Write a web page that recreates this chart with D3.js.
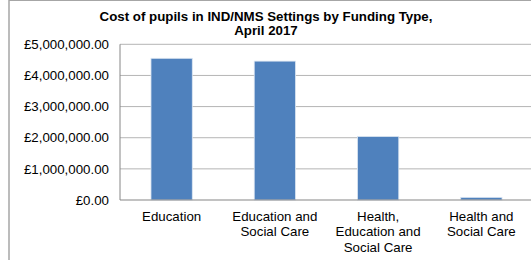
<!DOCTYPE html>
<html>
<head>
<meta charset="utf-8">
<script src="https://cdn.jsdelivr.net/npm/d3@7"></script>
<style>
  body { margin: 0; background: #fff; }
  svg { display: block; font-family: Arial, "Liberation Sans", sans-serif; }
</style>
</head>
<body>
<div id="chart"></div>
<script>
/**
 * Data
 */
const categories = [
  ["Education"],
  ["Education and", "Social Care"],
  ["Health,", "Education and", "Social Care"],
  ["Health and", "Social Care"],
];
const costs = [4550000, 4460000, 2040000, 85000];
const yTicks = [0, 1000000, 2000000, 3000000, 4000000, 5000000];
const titleLines = ["Cost of pupils in IND/NMS Settings by Funding Type,", "April 2017"];

/**
 * Globals
 */
const W = 531, H = 260;
const plot = { l: 120, r: 533, t: 44.3, b: 200 };

const svg = d3.select("#chart").append("svg").attr("width", W).attr("height", H);

// chart border (left + top visible)
svg.append("line").attr("x1", 9).attr("x2", 9).attr("y1", 0).attr("y2", H)
  .attr("stroke", "#a6a6a6").attr("stroke-width", 1.5);
svg.append("line").attr("x1", 9).attr("x2", W).attr("y1", 0.5).attr("y2", 0.5)
  .attr("stroke", "#a6a6a6").attr("stroke-width", 1);

const x = d3.scaleBand()
  .domain(d3.range(categories.length))
  .range([plot.l, plot.r])
  .paddingInner(0.6)
  .paddingOuter(0.3);

const y = d3.scaleLinear().domain([0, 5000000]).range([plot.b, plot.t]);

const fmt = v => "£" + d3.format(",.2f")(v);

// gridlines
svg.append("g").selectAll("line").data(yTicks.filter(d => d > 0)).join("line")
  .attr("x1", plot.l).attr("x2", plot.r)
  .attr("y1", d => y(d)).attr("y2", d => y(d))
  .attr("stroke", "#b5b5b5").attr("stroke-width", 1);

// y axis labels
svg.append("g").selectAll("text").data(yTicks).join("text")
  .attr("x", 109).attr("y", d => y(d)).attr("dy", "0.35em")
  .attr("text-anchor", "end")
  .style("font-size", "13.3px").attr("fill", "#000")
  .text(fmt);

// y axis line
svg.append("line").attr("x1", plot.l).attr("x2", plot.l)
  .attr("y1", plot.t).attr("y2", plot.b)
  .attr("stroke", "#868686").attr("stroke-width", 1);

// bars
svg.append("g").selectAll("rect").data(costs).join("rect")
  .attr("x", (d, i) => x(i)).attr("width", x.bandwidth())
  .attr("y", d => y(d)).attr("height", d => plot.b - y(d))
  .attr("fill", "#4f81bd").attr("stroke", "#dce6f2").attr("stroke-width", 0.8);

// x axis line
svg.append("line").attr("x1", plot.l).attr("x2", plot.r)
  .attr("y1", plot.b).attr("y2", plot.b)
  .attr("stroke", "#868686").attr("stroke-width", 1.2);

// x labels
const xl = svg.append("g").selectAll("text").data(categories).join("text")
  .attr("text-anchor", "middle")
  .style("font-size", "13.3px").attr("fill", "#000");
xl.selectAll("tspan").data((d, i) => d.map(s => ({ s, i }))).join("tspan")
  .attr("x", d => x(d.i) + x.bandwidth() / 2)
  .attr("y", (d, j) => 221 + j * 15.4)
  .text(d => d.s);

// title
svg.append("text").attr("text-anchor", "middle")
  .style("font-size", "13.3px").style("font-weight", "bold")
  .selectAll("tspan").data(titleLines).join("tspan")
  .attr("x", 266).attr("y", (d, i) => 20.5 + i * 14.7)
  .text(d => d);
</script>
</body>
</html>
